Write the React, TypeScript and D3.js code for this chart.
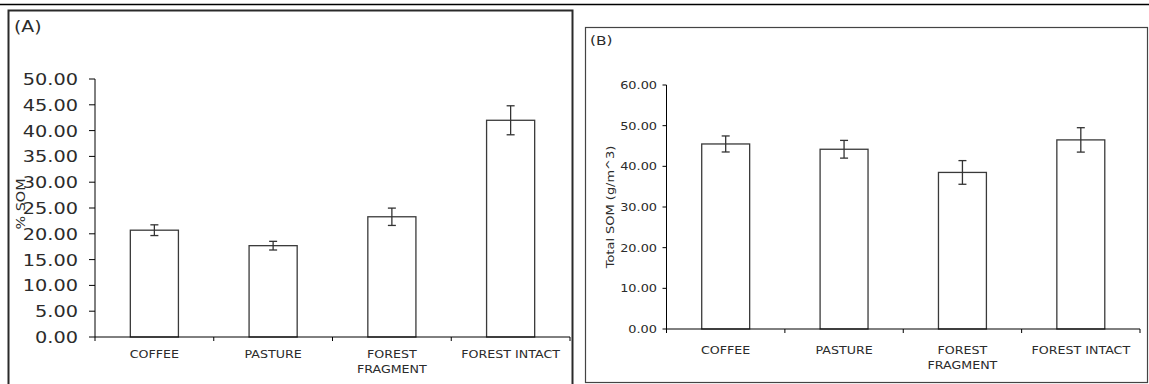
import React from "react";
import * as d3 from "d3";

const categories = ["COFFEE", "PASTURE", "FOREST FRAGMENT", "FOREST INTACT"];
const categoryLinesA = [["COFFEE"], ["PASTURE"], ["FOREST", "FRAGMENT"], ["FOREST INTACT"]];
const somPercent = [20.7, 17.7, 23.3, 42.0];
const somPercentErr = [1.04, 0.84, 1.68, 2.81];
const somTotal = [45.5, 44.2, 38.5, 46.5];
const somTotalErr = [1.97, 2.18, 2.91, 3.0];
const ticksA = [0, 5, 10, 15, 20, 25, 30, 35, 40, 45, 50];
const ticksB = [0, 10, 20, 30, 40, 50, 60];

const FONT = "'DejaVu Sans', Verdana, sans-serif";
const TXT = "#2b2b2b";

type PanelProps = {
  x0: number; x1: number; yTop: number; yBot: number;
  domainMax: number; ticks: number[]; values: number[]; errs: number[];
  tickFont: number; tickLen: number; tickLabelX: number;
  catFont: number; catY: number; catLineH: number;
};

function Panel(p: PanelProps) {
  const x = d3.scaleBand<string>().domain(categories).range([p.x0, p.x1]).padding(0);
  const y = d3.scaleLinear().domain([0, p.domainMax]).range([p.yBot, p.yTop]);
  const bw = x.bandwidth() * 0.405;
  const fmt = d3.format(".2f");
  return (
    <g>
      {categories.map((c, i) => {
        const cx = (x(c) as number) + x.bandwidth() / 2;
        const top = y(p.values[i]);
        const eTop = y(p.values[i] + p.errs[i]);
        const eBot = y(p.values[i] - p.errs[i]);
        return (
          <g key={c}>
            <rect x={cx - bw / 2} y={top} width={bw} height={p.yBot - top}
              fill="#fff" stroke="#3a3a3a" strokeWidth={1.3} />
            <line x1={cx} x2={cx} y1={eTop} y2={eBot} stroke="#333" strokeWidth={1.3} />
            <line x1={cx - 4} x2={cx + 4} y1={eTop} y2={eTop} stroke="#333" strokeWidth={1.3} />
            <line x1={cx - 4} x2={cx + 4} y1={eBot} y2={eBot} stroke="#333" strokeWidth={1.3} />
            {categoryLinesA[i].map((t, j) => (
              <g key={t} transform={`translate(${cx},${p.catY + j * p.catLineH}) scale(1.15,1)`}>
                <text textAnchor="middle" fontFamily={FONT} fontSize={p.catFont} fill={TXT}>{t}</text>
              </g>
            ))}
          </g>
        );
      })}
      {/* y axis */}
      <line x1={p.x0} x2={p.x0} y1={y(p.domainMax)} y2={p.yBot} stroke="#000" strokeWidth={1} />
      {p.ticks.map((t) => (
        <g key={t}>
          <line x1={p.x0 - p.tickLen} x2={p.x0} y1={y(t)} y2={y(t)} stroke="#000" strokeWidth={1} />
          <g transform={`translate(${p.tickLabelX},${y(t)}) scale(1.17,1)`}>
            <text textAnchor="end" dy="0.36em" fontFamily={FONT} fontSize={p.tickFont} fill={TXT}>{fmt(t)}</text>
          </g>
        </g>
      ))}
      {/* x axis */}
      <line x1={p.x0} x2={p.x1} y1={p.yBot} y2={p.yBot} stroke="#000" strokeWidth={1} />
      {d3.range(categories.length + 1).map((i) => {
        const xx = p.x0 + i * x.bandwidth();
        return <line key={i} x1={xx} x2={xx} y1={p.yBot} y2={p.yBot + 4} stroke="#000" strokeWidth={1} />;
      })}
    </g>
  );
}

export default function App() {
  return (
    <svg width={1149} height={384} style={{ position: "fixed", left: 0, top: 0, background: "#fff" }}>
      <rect x={0} y={0} width={1149} height={384} fill="#fff" />
      <line x1={0} x2={1149} y1={4.5} y2={4.5} stroke="#000" strokeWidth={1.5} />
      {/* Panel A */}
      <rect x={8.5} y={10.5} width={564} height={400} fill="none" stroke="#2a2a2a" strokeWidth={2} />
      <g transform="translate(14,32) scale(1.18,1)">
        <text fontFamily={FONT} fontSize={16} fill={TXT}>(A)</text>
      </g>
      <g transform="translate(25,204) rotate(-90) scale(1.2,1)">
        <text textAnchor="middle" fontFamily={FONT} fontSize={12} fill={TXT}>% SOM</text>
      </g>
      <Panel x0={95} x1={570} yTop={79} yBot={337} domainMax={50} ticks={ticksA}
        values={somPercent} errs={somPercentErr} tickFont={16.5} tickLen={6} tickLabelX={78}
        catFont={11} catY={358} catLineH={15} />
      {/* Panel B */}
      <rect x={585.5} y={27.5} width={562} height={355} fill="none" stroke="#444" strokeWidth={1.2} />
      <g transform="translate(590,45) scale(1.18,1)">
        <text fontFamily={FONT} fontSize={13} fill={TXT}>(B)</text>
      </g>
      <g transform="translate(614,207) rotate(-90) scale(1.18,1)">
        <text textAnchor="middle" fontFamily={FONT} fontSize={11} fill={TXT}>Total SOM (g/m^3)</text>
      </g>
      <Panel x0={666.5} x1={1140} yTop={85} yBot={329} domainMax={60} ticks={ticksB}
        values={somTotal} errs={somTotalErr} tickFont={11} tickLen={4} tickLabelX={657}
        catFont={11} catY={353.5} catLineH={15.5} />
    </svg>
  );
}
